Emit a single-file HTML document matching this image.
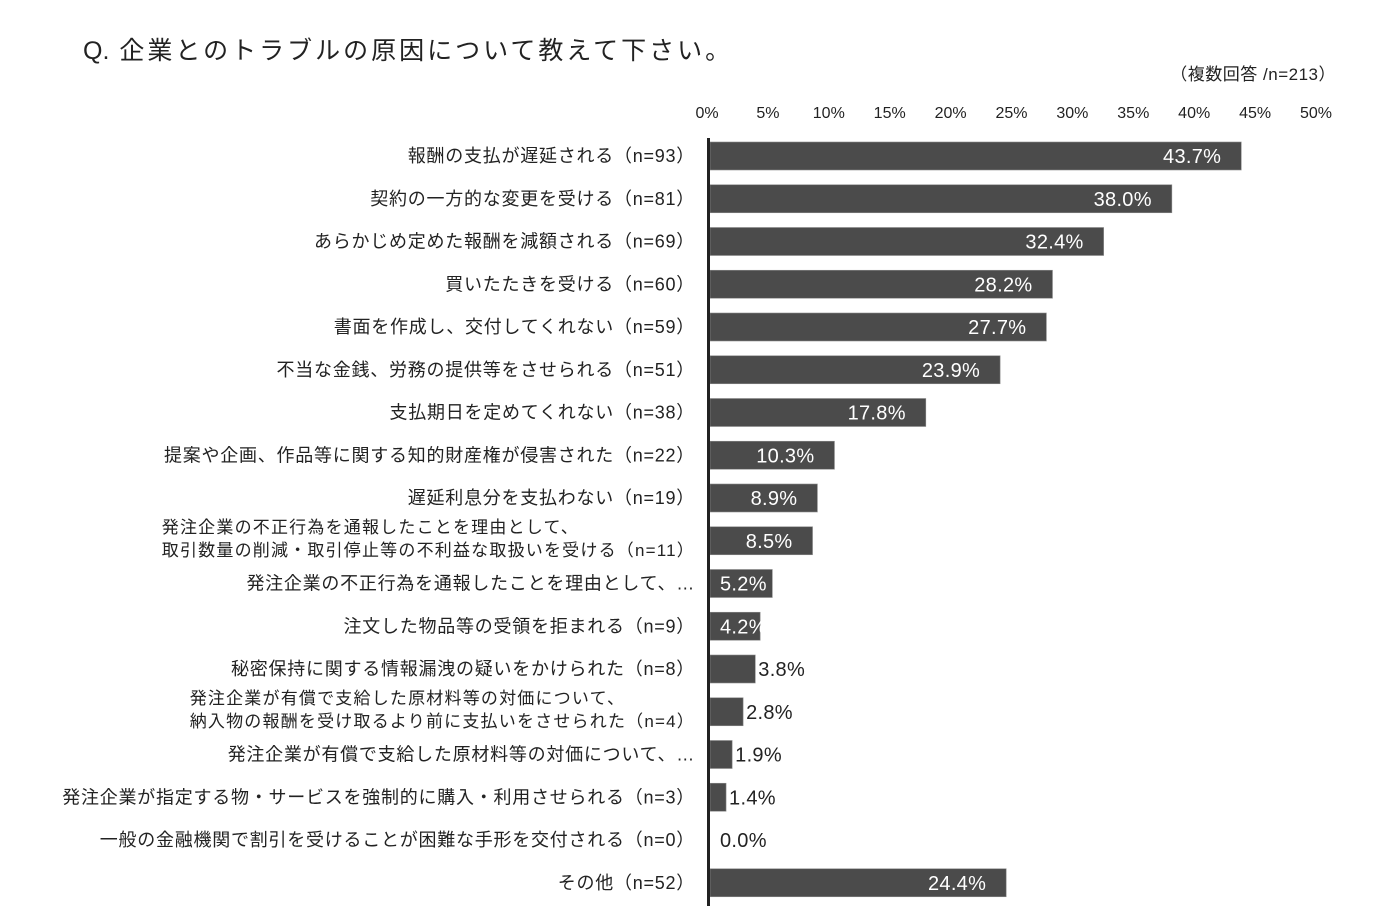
<!DOCTYPE html>
<html><head><meta charset="utf-8"><style>
html,body{margin:0;padding:0;background:#fff;}
svg{display:block;font-family:"Liberation Sans","Noto Sans CJK JP",sans-serif;}
</style></head><body>
<svg id="chart" width="1397" height="920" viewBox="0 0 1397 920">
<text x="83" y="59" font-size="25" letter-spacing="3" fill="#222"><tspan letter-spacing="0">Q.</tspan> 企業とのトラブルの原因について教えて下さい。</text>
<text x="1336" y="80" font-size="17" letter-spacing="0.5" fill="#222" text-anchor="end">（複数回答 /n=213）</text>
<g id="ticks"></g><g id="bars"></g><g id="labels"></g>
<rect x="707" y="138" width="3" height="768" fill="#222"/>
</svg>
<script>
const categories=[
["報酬の支払が遅延される（n=93）"],
["契約の一方的な変更を受ける（n=81）"],
["あらかじめ定めた報酬を減額される（n=69）"],
["買いたたきを受ける（n=60）"],
["書面を作成し、交付してくれない（n=59）"],
["不当な金銭、労務の提供等をさせられる（n=51）"],
["支払期日を定めてくれない（n=38）"],
["提案や企画、作品等に関する知的財産権が侵害された（n=22）"],
["遅延利息分を支払わない（n=19）"],
["発注企業の不正行為を通報したことを理由として、","取引数量の削減・取引停止等の不利益な取扱いを受ける（n=11）"],
["発注企業の不正行為を通報したことを理由として、…"],
["注文した物品等の受領を拒まれる（n=9）"],
["秘密保持に関する情報漏洩の疑いをかけられた（n=8）"],
["発注企業が有償で支給した原材料等の対価について、","納入物の報酬を受け取るより前に支払いをさせられた（n=4）"],
["発注企業が有償で支給した原材料等の対価について、…"],
["発注企業が指定する物・サービスを強制的に購入・利用させられる（n=3）"],
["一般の金融機関で割引を受けることが困難な手形を交付される（n=0）"],
["その他（n=52）"]];
const values=[43.7,38.0,32.4,28.2,27.7,23.9,17.8,10.3,8.9,8.5,5.2,4.2,3.8,2.8,1.9,1.4,0.0,24.4];
const ticks=[0,5,10,15,20,25,30,35,40,45,50];
const NS="http://www.w3.org/2000/svg";
const x=v=>709+12.18*v;
const yc=i=>156+i*42.75;
function mk(tag,attrs,parent,txt){const e=document.createElementNS(NS,tag);for(const k in attrs)e.setAttribute(k,attrs[k]);if(txt!=null)e.textContent=txt;parent.appendChild(e);return e;}
const gT=document.getElementById('ticks'),gB=document.getElementById('bars'),gL=document.getElementById('labels');
ticks.forEach(t=>{const e=mk('text',{x:x(t)-2,y:118,'font-size':16,'text-anchor':'middle',fill:'#222'},gT,t+'%');

});
values.forEach((v,i)=>{
 const y=yc(i);
 const r=mk('rect',{x:710,y:y-14,width:Math.max(0,x(v)-710),height:28,fill:'#4b4b4b',stroke:'#8a8a8a','stroke-width':0.6},gB);
 
 
 const t=mk('text',{y:y+7,'font-size':20,'letter-spacing':0.3},gB,v.toFixed(1)+'%');
 
 
 const w=t.getComputedTextLength();
 const end=x(v);
 if(v>=4){t.setAttribute('fill','#fff');t.setAttribute('x',Math.max(720,end-20-w));}
 else{t.setAttribute('fill','#222');t.setAttribute('x',Math.max(720,end+3));}
 const lab=categories[i];
 if(lab.length===1){
  const l=mk('text',{x:695,y:y+6,'font-size':18,'letter-spacing':0.75,'text-anchor':'end',fill:'#222'},gL,lab[0]);
  
  
 }else{
  const l2=mk('text',{x:695,y:y+15,'font-size':17,'letter-spacing':1.2,'text-anchor':'end',fill:'#222'},gL,lab[1]);
  
  
  const sx=695-l2.getComputedTextLength();
  const l1=mk('text',{x:sx,y:y-8,'font-size':17,'letter-spacing':1.2,fill:'#222'},gL,lab[0]);
  
  
 }
});
</script>
</body></html>
